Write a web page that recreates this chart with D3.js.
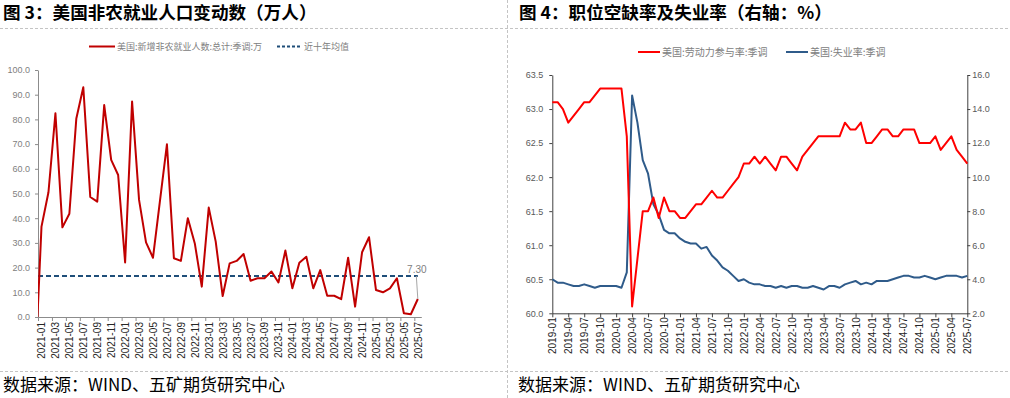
<!DOCTYPE html>
<html>
<head>
<meta charset="utf-8">
<title>图3 图4</title>
<style>
    body { margin: 0; background: #fff; }
    svg { display: block; }
    text { font-family: "Liberation Sans", Arial, sans-serif; }
    .cjk { font-family: "Noto Sans CJK SC", sans-serif; }
</style>
</head>
<body>
<svg id="chart" width="1010" height="398"></svg>

<script src="https://d3js.org/d3.v7.min.js"></script>
<script>
    function monthList(from, to) {
        var p = d3.timeParse("%Y-%m"), f = d3.timeFormat("%Y-%m");
        return d3.timeMonth.range(p(from), d3.timeMonth.offset(p(to), 1)).map(f);
    }

    // 图3: 2020-12 .. 2025-07, the 2020-12 point sits left of the axis and gets clipped
    var nfpMonths = monthList("2020-12", "2025-07");
    var nfpValues = [-26.8,
        36.6, 50.5, 82.5, 36.3, 41.8, 80.4, 93.0, 48.6, 46.7, 85.8, 63.6, 57.5,
        22.1, 87.2, 47.4, 30.2, 24.0, 47.0, 69.9, 23.8, 22.7, 40.0, 29.8, 12.3,
        44.3, 30.5, 8.5, 21.7, 22.7, 25.5, 14.7, 15.7, 15.7, 18.4, 14.0, 26.9,
        11.6, 22.0, 24.4, 11.6, 19.0, 8.6, 8.6, 7.2, 24.0, 4.2, 26.2, 32.3,
        10.9, 10.0, 11.6, 15.7, 1.5, 1.1, 7.3];
    var nfpAvg = 16.6;
    var nfpTicks = [0, 10, 20, 30, 40, 50, 60, 70, 80, 90, 100];

    // 图4: 2019-01 .. 2025-07
    var labMonths = monthList("2019-01", "2025-07");
    var lfpr = [
        63.1, 63.1, 63.0, 62.8, 62.9, 63.0, 63.1, 63.1, 63.2, 63.3, 63.3, 63.3,
        63.3, 63.3, 62.6, 60.1, 60.8, 61.5, 61.5, 61.7, 61.4, 61.7, 61.5, 61.5,
        61.4, 61.4, 61.5, 61.6, 61.6, 61.7, 61.8, 61.7, 61.7, 61.8, 61.9, 62.0,
        62.2, 62.2, 62.3, 62.2, 62.3, 62.2, 62.1, 62.3, 62.3, 62.2, 62.1, 62.3,
        62.4, 62.5, 62.6, 62.6, 62.6, 62.6, 62.6, 62.8, 62.7, 62.7, 62.8, 62.5,
        62.5, 62.6, 62.7, 62.7, 62.6, 62.6, 62.7, 62.7, 62.7, 62.5, 62.5, 62.5,
        62.6, 62.4, 62.5, 62.6, 62.4, 62.3, 62.2];
    var unemp = [
        4.0, 3.8, 3.8, 3.7, 3.6, 3.6, 3.7, 3.6, 3.5, 3.6, 3.6, 3.6,
        3.6, 3.5, 4.4, 14.8, 13.2, 11.0, 10.2, 8.4, 7.8, 6.9, 6.7, 6.7,
        6.4, 6.2, 6.1, 6.1, 5.8, 5.9, 5.4, 5.1, 4.7, 4.5, 4.2, 3.9,
        4.0, 3.8, 3.7, 3.7, 3.6, 3.6, 3.5, 3.6, 3.5, 3.6, 3.6, 3.5,
        3.5, 3.6, 3.5, 3.4, 3.6, 3.6, 3.5, 3.7, 3.8, 3.9, 3.7, 3.8,
        3.7, 3.9, 3.9, 3.9, 4.0, 4.1, 4.2, 4.2, 4.1, 4.1, 4.2, 4.1,
        4.0, 4.1, 4.2, 4.2, 4.2, 4.1, 4.2];
    var lfprTicks = [60.0, 60.5, 61.0, 61.5, 62.0, 62.5, 63.0, 63.5];
    var unempTicks = [2, 4, 6, 8, 10, 12, 14, 16];

    var svg = d3.select("#chart");
    var fmt1 = d3.format(".1f");

    // frame: dashed separators
    var sep = svg.append("g").attr("stroke", "#c4c4c4").attr("stroke-dasharray", "3,2");
    sep.append("line").attr("x1", 0).attr("x2", 1010).attr("y1", 28.5).attr("y2", 28.5);
    sep.append("line").attr("x1", 0).attr("x2", 1010).attr("y1", 371.5).attr("y2", 371.5);
    sep.append("line").attr("x1", 507.5).attr("x2", 507.5).attr("y1", 0).attr("y2", 398);

    svg.append("text").attr("class", "cjk").attr("x", 3).attr("y", 19)
        .attr("font-size", 17.6).attr("font-weight", "bold").text("图 3：美国非农就业人口变动数（万人）");
    svg.append("text").attr("class", "cjk").attr("x", 519).attr("y", 19)
        .attr("font-size", 17.6).attr("font-weight", "bold").text("图 4：职位空缺率及失业率（右轴：%）");
    svg.append("text").attr("class", "cjk").attr("x", 3).attr("y", 391)
        .attr("font-size", 17).text("数据来源：WIND、五矿期货研究中心");
    svg.append("text").attr("class", "cjk").attr("x", 518).attr("y", 391)
        .attr("font-size", 17).text("数据来源：WIND、五矿期货研究中心");

    function styleAxis(g, lineColor, textColor, size) {
        g.selectAll("path, line").attr("stroke", lineColor);
        g.selectAll("text").attr("fill", textColor).attr("font-size", size)
            .attr("font-family", "'Liberation Sans', Arial, sans-serif");
    }

    function rotateLabels(g, gap) {
        g.selectAll("text")
            .attr("transform", "rotate(-90)")
            .attr("text-anchor", "end")
            .attr("x", -gap).attr("y", 0).attr("dy", "0.35em");
    }

    function legendItem(x, y, w, color, dash, label, size) {
        svg.append("line").attr("x1", x).attr("x2", x + w).attr("y1", y).attr("y2", y)
            .attr("stroke", color).attr("stroke-width", 2)
            .attr("stroke-dasharray", dash);
        svg.append("text").attr("class", "cjk").attr("x", x + w + 2).attr("y", y)
            .attr("dy", "0.35em").attr("font-size", size).attr("fill", "#808080").text(label);
    }

    // ---------- 图3 ----------
    function drawLeft() {
        var x = d3.scaleLinear().domain([0.5, nfpMonths.length - 0.5]).range([38, 421.3]);
        var y = d3.scaleLinear().domain([0, 100]).range([317, 70]);

        svg.append("clipPath").attr("id", "clipL").append("rect")
            .attr("x", 38).attr("y", 68).attr("width", 384).attr("height", 249);

        var gy = svg.append("g").attr("transform", "translate(38,0)")
            .call(d3.axisLeft(y).tickValues(nfpTicks).tickSize(3).tickSizeOuter(0)
                .tickPadding(5).tickFormat(fmt1));
        styleAxis(gy, "#8c8c8c", "#808080", 9);

        var bounds = d3.range(0.5, nfpMonths.length - 1, 2);
        var gx = svg.append("g").attr("transform", "translate(0,317)")
            .call(d3.axisBottom(x).tickValues(bounds).tickSize(4).tickSizeOuter(0).tickFormat(""));
        styleAxis(gx, "#8c8c8c", "#333", 9);

        var labIdx = d3.range(1, nfpMonths.length, 2);
        var gl = svg.append("g").attr("transform", "translate(0,317)")
            .call(d3.axisBottom(x).tickValues(labIdx).tickSize(0)
                .tickFormat(function(i) { return nfpMonths[i]; }));
        gl.select(".domain").remove();
        styleAxis(gl, "#8c8c8c", "#262626", 10);
        rotateLabels(gl, 5);

        var last = nfpValues.length - 1;
        svg.append("line")
            .attr("x1", x(0.5)).attr("x2", x(last))
            .attr("y1", y(nfpAvg)).attr("y2", y(nfpAvg))
            .attr("stroke", "#1F4E79").attr("stroke-width", 2).attr("stroke-dasharray", "5,3");

        var line = d3.line().x(function(d, i) { return x(i); }).y(function(d) { return y(d); });
        svg.append("path").datum(nfpValues)
            .attr("clip-path", "url(#clipL)")
            .attr("d", line).attr("fill", "none")
            .attr("stroke", "#C00000").attr("stroke-width", 2).attr("stroke-linejoin", "round");

        // data label of the last month with its leader line
        svg.append("line")
            .attr("x1", x(last) - 1.5).attr("y1", y(nfpValues[last]) - 23)
            .attr("x2", x(last)).attr("y2", y(nfpValues[last]))
            .attr("stroke", "#a6a6a6").attr("stroke-width", 1);
        svg.append("text").attr("x", x(last) - 1).attr("y", y(nfpValues[last]) - 26)
            .attr("text-anchor", "middle").attr("font-size", 10).attr("fill", "#808080")
            .text(nfpValues[last].toFixed(2));

        legendItem(89, 46.5, 26, "#C00000", null, "美国:新增非农就业人数:总计:季调:万", 9);
        legendItem(277, 46.5, 25, "#1F4E79", "3,2", "近十年均值", 9);
    }

    // ---------- 图4 ----------
    function drawRight() {
        var x = d3.scaleLinear().domain([0, labMonths.length - 1]).range([552.3, 967.3]);
        var yl = d3.scaleLinear().domain([60, 63.5]).range([313.3, 75]);
        var yr = d3.scaleLinear().domain([2, 16]).range([313.3, 75]);

        var gyl = svg.append("g").attr("transform", "translate(552.3,0)")
            .call(d3.axisLeft(yl).tickValues(lfprTicks).tickSize(3).tickSizeOuter(0)
                .tickPadding(6).tickFormat(fmt1));
        styleAxis(gyl, "#404040", "#595959", 9);

        var gyr = svg.append("g").attr("transform", "translate(967.3,0)")
            .call(d3.axisRight(yr).tickValues(unempTicks).tickSize(3).tickSizeOuter(0)
                .tickPadding(2).tickFormat(fmt1));
        styleAxis(gyr, "#404040", "#595959", 9);

        var qIdx = d3.range(0, labMonths.length, 3);
        var gx = svg.append("g").attr("transform", "translate(0,313.3)")
            .call(d3.axisBottom(x).tickValues(qIdx).tickSize(4).tickSizeOuter(0)
                .tickFormat(function(i) { return labMonths[i]; }));
        styleAxis(gx, "#404040", "#262626", 10);
        rotateLabels(gx, 4);

        var lineL = d3.line().x(function(d, i) { return x(i); }).y(function(d) { return yl(d); });
        var lineR = d3.line().x(function(d, i) { return x(i); }).y(function(d) { return yr(d); });

        svg.append("path").datum(unemp).attr("d", lineR).attr("fill", "none")
            .attr("stroke", "#2F5B8A").attr("stroke-width", 2).attr("stroke-linejoin", "round");
        svg.append("path").datum(lfpr).attr("d", lineL).attr("fill", "none")
            .attr("stroke", "#FF0000").attr("stroke-width", 2).attr("stroke-linejoin", "round");

        legendItem(638, 52, 22, "#FF0000", null, "美国:劳动力参与率:季调", 10);
        legendItem(786, 52, 22, "#2F5B8A", null, "美国:失业率:季调", 10);
    }

    drawLeft();
    drawRight();
</script>
</body>
</html>
